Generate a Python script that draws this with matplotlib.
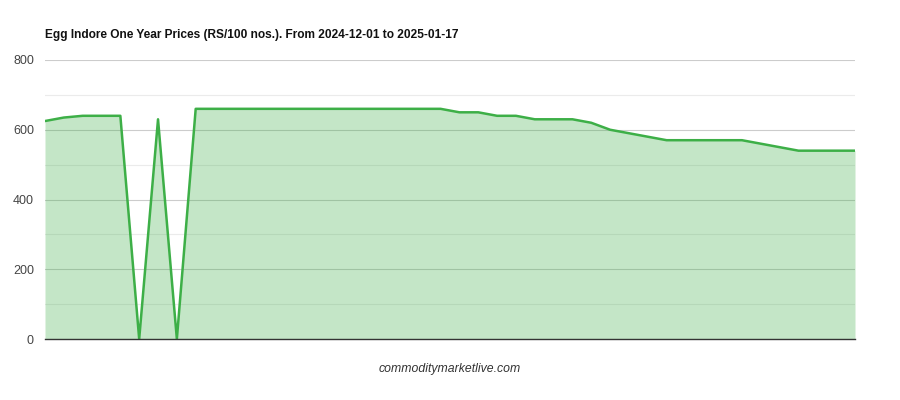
import matplotlib
matplotlib.use("Agg")
from matplotlib import pyplot as plt
from matplotlib.ticker import MultipleLocator

plt.rcParams['font.family'] = ['Liberation Sans', 'DejaVu Sans']

# price per day index (44 trading records between 2024-12-01 and 2025-01-17)
prices = [625, 635, 640, 640, 640, 0, 630, 0,
          660, 660, 660, 660, 660, 660, 660, 660, 660, 660, 660, 660, 660, 660,
          650, 650, 640, 640, 630, 630, 630, 620, 600, 590, 580,
          570, 570, 570, 570, 570, 560, 550, 540, 540, 540, 540]
days = list(range(len(prices)))

title = "Egg Indore One Year Prices (RS/100 nos.). From 2024-12-01 to 2025-01-17"
y_ticks = [0, 200, 400, 600, 800]

line_col = "#3daf47"

fig = plt.figure(figsize=(9, 4), dpi=100)
ax = fig.add_axes([0.05, 0.1525, 0.90, 0.6975])

ax.fill_between(days, prices, 0, color=line_col, alpha=0.3, linewidth=0, zorder=3)
ax.plot(days, prices, color=line_col, linewidth=1.8, zorder=4)

ax.set_xlim(days[0], days[-1])
ax.set_ylim(0, 800)
ax.set_yticks(y_ticks)
ax.yaxis.set_minor_locator(MultipleLocator(100))
ax.set_xticks([])

ax.grid(True, which='major', axis='y', color='#cccccc', linewidth=0.8, zorder=1)
ax.grid(True, which='minor', axis='y', color='#ebebeb', linewidth=0.8, zorder=1)
ax.set_axisbelow(True)

for s in ['top', 'right', 'left']:
    ax.spines[s].set_visible(False)
ax.spines['bottom'].set_color('#333333')
ax.spines['bottom'].set_linewidth(1.0)
ax.spines['bottom'].set_zorder(5)

ax.tick_params(axis='y', which='both', length=0, labelsize=9, labelcolor='#444444', pad=8)

fig.text(0.05, 0.912, title, fontsize=8.6, fontweight='bold', color='#111111', ha='left', va='center')
fig.text(0.5, 0.077, "commoditymarketlive.com", fontsize=8.8, style='italic', color='#333333',
         ha='center', va='center')

fig.savefig("out.png", dpi=100)
